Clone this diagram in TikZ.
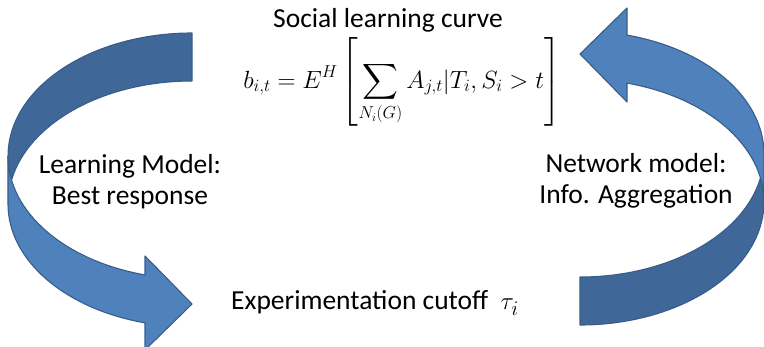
\documentclass[tikz,border=0pt]{standalone}
\usepackage{amsmath}
\usepackage{fontspec}
\setmainfont{Carlito}
\usetikzlibrary{positioning}
\definecolor{arrowfront}{RGB}{79,129,189}
\definecolor{arrowback}{RGB}{63,103,151}
\definecolor{arrowline}{RGB}{56,93,138}

\tikzset{
  frontband/.style={fill=arrowfront,draw=arrowline,line width=1.1pt,line join=round},
  backband/.style={fill=arrowback,draw=arrowline,line width=1.1pt,line join=round},
  lbl/.style={font=\fontsize{27.5}{31}\selectfont,align=center,inner sep=0pt},
  band/.style={x radius=184,y radius=123},
}

% curved arrow: tail at the top right, head at the bottom pointing right
\newcommand\bentarrow{%
  \path[backband] (192,33) arc[start angle=270,end angle=168.75,band]
    arc[start angle=191.25,end angle=270,band] -- cycle;
  \path[frontband] (8,156) arc[start angle=180,end angle=104.8,band]
    -- (145,256) -- (192,304) -- (145,350) -- (145,322.9)
    arc[start angle=104.8,end angle=180,band] -- cycle;
}

\begin{document}
\begin{tikzpicture}[x=1pt,y=-1pt]
  \useasboundingbox (0,0) rectangle (764,346);
  \clip (0,0) rectangle (764,346);

  % learning model arrow
  \bentarrow
  % network model arrow
  \begin{scope}[rotate around={180:(386,179)}]
    \bentarrow
  \end{scope}

  \node[lbl] (title) at (388,20) {Social learning curve};
  \node[lbl,font=\fontsize{26}{30}\selectfont] (curve) at (402,82)
    {$\displaystyle b_{i,t}=E^{H}\left[\sum_{N_i(G)}A_{j,t}|T_i,S_i>t\right]$};
  \node[lbl] (learn) at (130,182) {Learning Model:\\Best response};
  \node[lbl] (net) at (636,181) {Network model:\\Info. Aggregation};
  \node[lbl,anchor=west] (cutoff) at (231,303) {Experimentation cutoff\ \ $\tau_i$};
\end{tikzpicture}
\end{document}
